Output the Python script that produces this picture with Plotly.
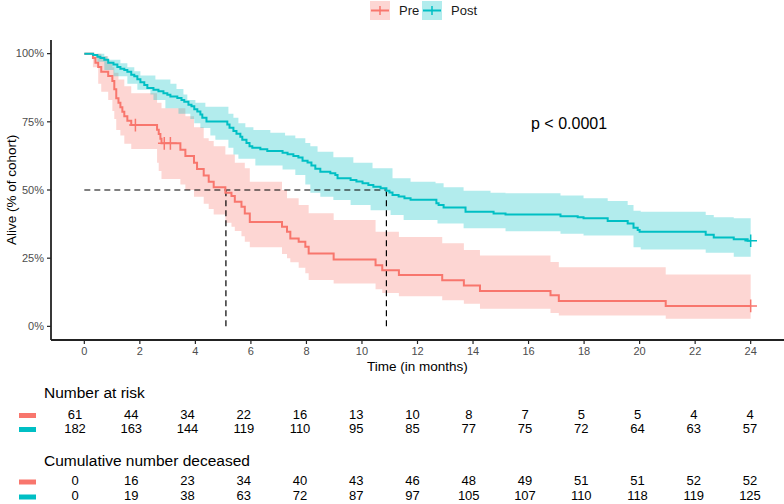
import plotly.graph_objects as go

W, H = 784, 504
RED = "#F8766D"
TEAL = "#00BFC4"
RED_FILL = "rgba(248,118,109,0.3)"
TEAL_FILL = "rgba(0,191,196,0.3)"
AXIS_COL = "#222222"
FONT = "Liberation Sans, Arial, sans-serif"

# ---------------- Kaplan-Meier data ----------------
pre_t = [0, 0.31, 0.40, 0.50, 0.61, 0.86, 1.01, 1.08, 1.15, 1.23, 1.30, 1.37, 1.44, 1.55, 1.69,
         2.62, 2.68, 2.74, 2.78, 3.46, 3.64, 3.95, 4.06, 4.30, 4.48, 4.66, 5.08, 5.30, 5.42, 5.66,
         5.78, 5.96, 7.12, 7.30, 7.42, 7.72, 7.96, 8.08, 8.98, 10.49, 10.73, 11.33, 12.89, 13.67,
         14.25, 16.79, 17.09, 20.94, 24.0]
pre_s = [1.0, 0.984, 0.967, 0.951, 0.934, 0.918, 0.90, 0.869, 0.836, 0.82, 0.803, 0.787, 0.77, 0.754, 0.738,
         0.721, 0.705, 0.688, 0.671, 0.648, 0.625, 0.60, 0.577, 0.553, 0.53, 0.51, 0.49, 0.478, 0.457, 0.439,
         0.414, 0.383, 0.365, 0.347, 0.322, 0.31, 0.292, 0.267, 0.245, 0.224, 0.206, 0.188, 0.169, 0.15,
         0.13, 0.114, 0.093, 0.075, 0.075]

pre_up_t = [0, 0.61, 0.86, 1.01, 1.08, 1.23, 1.44, 1.69, 2.62, 2.78, 3.64, 3.95, 4.30, 4.48, 4.66, 5.08,
            5.42, 5.78, 5.96, 7.12, 7.30, 7.72, 8.08, 8.98, 10.49, 11.33, 12.89, 13.67, 14.25, 16.79,
            17.09, 20.94, 24.0]
pre_up = [1.0, 0.99, 0.97, 0.95, 0.93, 0.905, 0.88, 0.855, 0.82, 0.80, 0.77, 0.73, 0.69, 0.68, 0.66, 0.63,
          0.60, 0.58, 0.53, 0.50, 0.47, 0.445, 0.415, 0.39, 0.347, 0.328, 0.305, 0.28, 0.26, 0.236,
          0.217, 0.19, 0.19]

pre_lo_t = [0, 0.31, 0.50, 0.61, 0.86, 1.01, 1.08, 1.15, 1.30, 1.44, 1.69, 2.62, 2.68, 2.78, 3.46, 3.64,
            3.95, 4.30, 4.48, 4.66, 5.08, 5.30, 5.42, 5.66, 5.78, 5.96, 7.12, 7.30, 7.42, 7.72, 7.96,
            8.08, 8.98, 10.49, 10.73, 11.33, 12.89, 13.67, 14.25, 16.79, 17.09, 20.94, 24.0]
pre_lo = [1.0, 0.95, 0.89, 0.86, 0.83, 0.79, 0.76, 0.72, 0.70, 0.67, 0.65, 0.60, 0.57, 0.54, 0.52, 0.50,
          0.475, 0.45, 0.43, 0.41, 0.38, 0.365, 0.35, 0.33, 0.31, 0.29, 0.265, 0.25, 0.235, 0.215, 0.195,
          0.17, 0.157, 0.136, 0.122, 0.11, 0.096, 0.083, 0.065, 0.049, 0.04, 0.028, 0.028]

pre_cens_t = [1.84, 2.88, 3.10, 24.0]
pre_cens_s = [0.738, 0.671, 0.671, 0.075]

post_t = [0, 0.32, 0.47, 0.58, 0.72, 0.86, 1.05, 1.19, 1.30, 1.44, 1.55, 1.69, 1.80, 1.91, 2.02, 2.16,
          2.27, 2.49, 2.67, 2.85, 2.99, 3.10, 3.35, 3.50, 3.60, 3.75, 3.86, 3.96, 4.07, 4.18, 4.25, 4.40,
          5.15, 5.23, 5.37, 5.48, 5.62, 5.69, 5.84, 5.95, 6.05, 6.34, 6.59, 7.14, 7.32, 7.53, 7.71, 7.86,
          8.04, 8.18, 8.32, 8.50, 8.86, 9.04, 9.12, 9.59, 9.80, 10.02, 10.23, 10.41, 10.67, 10.88, 10.99,
          11.10, 11.32, 11.53, 11.75, 12.68, 12.76, 12.94, 13.73, 14.74, 15.17, 17.15, 17.77, 17.98,
          18.85, 19.57, 19.78, 19.93, 20.00, 22.38, 22.67, 23.39, 23.89, 24.0]
post_s = [1.0, 0.995, 0.989, 0.984, 0.978, 0.967, 0.96, 0.951, 0.945, 0.94, 0.934, 0.923, 0.917, 0.906,
          0.895, 0.885, 0.874, 0.868, 0.862, 0.855, 0.849, 0.843, 0.837, 0.83, 0.824, 0.813, 0.807, 0.796,
          0.788, 0.777, 0.765, 0.751, 0.74, 0.728, 0.716, 0.706, 0.695, 0.684, 0.672, 0.66, 0.655, 0.649,
          0.643, 0.637, 0.631, 0.625, 0.619, 0.607, 0.601, 0.59, 0.578, 0.567, 0.561, 0.555, 0.543, 0.537,
          0.531, 0.525, 0.518, 0.512, 0.506, 0.497, 0.491, 0.482, 0.476, 0.47, 0.464, 0.451, 0.445, 0.436,
          0.42, 0.414, 0.41, 0.404, 0.40, 0.396, 0.386, 0.377, 0.362, 0.353, 0.347, 0.336, 0.326, 0.319,
          0.314, 0.314]

post_up_t = [0, 0.72, 0.83, 1.30, 1.55, 1.80, 2.02, 2.56, 3.10, 3.32, 3.57, 3.71, 4.0, 4.36, 5.19, 5.37,
             5.55, 5.80, 6.09, 6.70, 7.23, 7.60, 7.96, 8.14, 8.40, 8.97, 9.69, 10.38, 11.10, 11.75, 12.65,
             12.94, 13.66, 14.63, 15.17, 17.15, 17.98, 18.85, 19.57, 19.78, 20.04, 22.38, 22.67, 23.39, 24.0]
post_up = [1.0, 0.99, 0.978, 0.965, 0.95, 0.935, 0.92, 0.905, 0.89, 0.87, 0.85, 0.83, 0.82, 0.805, 0.78,
           0.765, 0.745, 0.73, 0.72, 0.71, 0.70, 0.69, 0.672, 0.66, 0.64, 0.62, 0.60, 0.58, 0.543, 0.53,
           0.525, 0.51, 0.497, 0.49, 0.488, 0.48, 0.47, 0.46, 0.445, 0.424, 0.42, 0.408, 0.40, 0.396, 0.396]

post_lo_t = [0, 0.47, 0.72, 1.05, 1.55, 1.91, 2.38, 2.49, 2.92, 3.39, 3.82, 3.96, 4.18, 4.54, 4.72, 5.19,
             5.37, 5.55, 6.16, 7.14, 7.60, 7.96, 8.14, 8.50, 8.97, 9.59, 10.31, 11.03, 11.50, 12.72, 13.66,
             15.17, 17.15, 17.98, 19.78, 20.04, 22.38, 23.39, 24.0]
post_lo = [1.0, 0.97, 0.94, 0.917, 0.89, 0.868, 0.85, 0.83, 0.80, 0.78, 0.76, 0.745, 0.727, 0.70, 0.684,
           0.655, 0.63, 0.615, 0.59, 0.575, 0.555, 0.52, 0.49, 0.475, 0.463, 0.445, 0.426, 0.408, 0.39,
           0.377, 0.36, 0.349, 0.34, 0.333, 0.29, 0.282, 0.27, 0.255, 0.255]

post_cens_t = [24.0]
post_cens_s = [0.314]

pre_median = 5.1
post_median = 10.88
p_label = "p < 0.0001"

# ---------------- Risk tables ----------------
table_times = [0, 2, 4, 6, 8, 10, 12, 14, 16, 18, 20, 22, 24]
pre_at_risk = [61, 44, 34, 22, 16, 13, 10, 8, 7, 5, 5, 4, 4]
post_at_risk = [182, 163, 144, 119, 110, 95, 85, 77, 75, 72, 64, 63, 57]
pre_deceased = [0, 16, 23, 34, 40, 43, 46, 48, 49, 51, 51, 52, 52]
post_deceased = [0, 19, 38, 63, 72, 87, 97, 105, 107, 110, 118, 119, 125]

x_ticks = list(range(0, 25, 2))
y_ticks = [0, 0.25, 0.5, 0.75, 1.0]
y_ticktext = ["0%", "25%", "50%", "75%", "100%"]

X_RANGE = [-1.2, 25.2]
Y_RANGE = [-0.05, 1.05]

# ---------------- Figure ----------------
fig = go.Figure()


def add_band(tu, up, tl, lo, fill):
    fig.add_trace(go.Scatter(x=tu, y=up, mode="lines", line=dict(width=0, shape="hv", color=fill),
                             hoverinfo="skip", showlegend=False))
    fig.add_trace(go.Scatter(x=tl, y=lo, mode="lines", line=dict(width=0, shape="hv", color=fill),
                             fill="tonexty", fillcolor=fill, hoverinfo="skip", showlegend=False))


add_band(pre_up_t, pre_up, pre_lo_t, pre_lo, RED_FILL)
add_band(post_up_t, post_up, post_lo_t, post_lo, TEAL_FILL)

# median dashed lines
dash = "6px,4px"
fig.add_trace(go.Scatter(x=[0, post_median], y=[0.5, 0.5], mode="lines",
                         line=dict(color="black", width=1.2, dash=dash), hoverinfo="skip", showlegend=False))
for m in (pre_median, post_median):
    fig.add_trace(go.Scatter(x=[m, m], y=[0, 0.5], mode="lines",
                             line=dict(color="black", width=1.2, dash=dash), hoverinfo="skip", showlegend=False))

fig.add_trace(go.Scatter(x=pre_t, y=pre_s, mode="lines", line=dict(color=RED, width=2, shape="hv"),
                         name="Pre", showlegend=False))
fig.add_trace(go.Scatter(x=post_t, y=post_s, mode="lines", line=dict(color=TEAL, width=2, shape="hv"),
                         name="Post", showlegend=False))
fig.add_trace(go.Scatter(x=pre_cens_t, y=pre_cens_s, mode="markers",
                         marker=dict(symbol="cross-thin", size=9, line=dict(color=RED, width=1.5)),
                         showlegend=False))
fig.add_trace(go.Scatter(x=post_cens_t, y=post_cens_s, mode="markers",
                         marker=dict(symbol="cross-thin", size=9, line=dict(color=TEAL, width=1.5)),
                         showlegend=False))

# risk table texts
row_y = {"r1": 415.5, "r2": 429.5, "d1": 482, "d2": 497}
for key, vals in (("r1", pre_at_risk), ("r2", post_at_risk), ("d1", pre_deceased), ("d2", post_deceased)):
    fig.add_trace(go.Scatter(x=table_times, y=[row_y[key]] * len(table_times), text=[str(v) for v in vals],
                             mode="text", textfont=dict(size=13, color="black", family=FONT),
                             xaxis="x2", yaxis="y2", hoverinfo="skip", showlegend=False))


def px(x):
    return x / W


def py(y):
    return 1 - y / H


shapes = []
annotations = []

AX_L, AX_B, AX_T = 51, 340, 40
# axis lines (paper coordinates, drawn on top)
shapes.append(dict(type="line", xref="paper", yref="paper", x0=px(AX_L), x1=1.0, y0=py(AX_B), y1=py(AX_B),
                   line=dict(color=AXIS_COL, width=1.8), layer="above"))
shapes.append(dict(type="line", xref="paper", yref="paper", x0=px(AX_L), x1=px(AX_L), y0=py(AX_B),
                   y1=py(AX_T), line=dict(color=AXIS_COL, width=1.8), layer="above"))
# tick marks
for t in x_ticks:
    shapes.append(dict(type="line", xref="x", yref="paper", x0=t, x1=t, y0=py(AX_B), y1=py(AX_B + 4),
                       line=dict(color=AXIS_COL, width=1.2), layer="above"))
for v in y_ticks:
    shapes.append(dict(type="line", xref="paper", yref="y", x0=px(AX_L - 4), x1=px(AX_L), y0=v, y1=v,
                       line=dict(color=AXIS_COL, width=1.2), layer="above"))

# table key bars
for yc, col in ((row_y["r1"], RED), (row_y["r2"], TEAL), (row_y["d1"], RED), (row_y["d2"], TEAL)):
    shapes.append(dict(type="rect", xref="paper", yref="paper", x0=px(19), x1=px(36),
                       y0=py(yc + 2.5), y1=py(yc - 2.5), fillcolor=col, line=dict(width=0)))

# legend
for x0, col, fill, label in ((370, RED, RED_FILL, "Pre"), (422, TEAL, TEAL_FILL, "Post")):
    shapes.append(dict(type="rect", xref="paper", yref="paper", x0=px(x0), x1=px(x0 + 20),
                       y0=py(20), y1=py(1), fillcolor=fill, line=dict(width=0)))
    shapes.append(dict(type="line", xref="paper", yref="paper", x0=px(x0 + 1), x1=px(x0 + 19),
                       y0=py(10.5), y1=py(10.5), line=dict(color=col, width=2)))
    shapes.append(dict(type="line", xref="paper", yref="paper", x0=px(x0 + 10), x1=px(x0 + 10),
                       y0=py(6), y1=py(15), line=dict(color=col, width=1.5)))
    annotations.append(dict(text=label, xref="paper", yref="paper", x=px(x0 + 27), y=py(10.5),
                            xanchor="left", yanchor="middle", showarrow=False,
                            font=dict(size=13, color="#1a1a1a", family=FONT)))

annotations += [
    dict(text=p_label, xref="x", yref="y", x=17.45, y=0.745, xanchor="center", yanchor="middle",
         showarrow=False, font=dict(size=16, color="black", family=FONT)),
    dict(text="Alive (% of cohort)", xref="paper", yref="paper", x=px(11), y=py(190), textangle=-90,
         xanchor="center", yanchor="middle", showarrow=False,
         font=dict(size=13.5, color="black", family=FONT)),
    dict(text="Time (in months)", xref="paper", yref="paper", x=px(417), y=py(366),
         xanchor="center", yanchor="middle", showarrow=False,
         font=dict(size=13.5, color="black", family=FONT)),
    dict(text="Number at risk", xref="paper", yref="paper", x=px(42), y=py(392), xanchor="left",
         yanchor="middle", showarrow=False, font=dict(size=15.5, color="black", family=FONT)),
    dict(text="Cumulative number deceased", xref="paper", yref="paper", x=px(42), y=py(460.5),
         xanchor="left", yanchor="middle", showarrow=False, font=dict(size=15.5, color="black", family=FONT)),
]

axis_common = dict(showgrid=False, zeroline=False, showline=False, ticks="",
                   tickfont=dict(size=11, color="#4D4D4D", family=FONT))
hidden = dict(showgrid=False, zeroline=False, showline=False, showticklabels=False, ticks="",
              fixedrange=True)

fig.update_layout(
    width=W, height=H, margin=dict(l=0, r=0, t=0, b=0, pad=0),
    paper_bgcolor="white", plot_bgcolor="rgba(0,0,0,0)",
    font=dict(family=FONT),
    showlegend=False,
    xaxis=dict(domain=[AX_L / W, 1], range=X_RANGE, tickvals=x_ticks, anchor="y",
               ticklabelstandoff=3, **axis_common),
    yaxis=dict(domain=[1 - AX_B / H, 1 - AX_T / H], range=Y_RANGE, tickvals=y_ticks,
               ticktext=y_ticktext, anchor="x", ticklabelstandoff=6, **axis_common),
    xaxis2=dict(domain=[0, 1], range=[-2.667, 25.209], anchor="y2", **hidden),
    yaxis2=dict(domain=[0, 1], range=[H, 0], anchor="x2", **hidden),
    shapes=shapes,
    annotations=annotations,
)

fig.write_html("out.html")
